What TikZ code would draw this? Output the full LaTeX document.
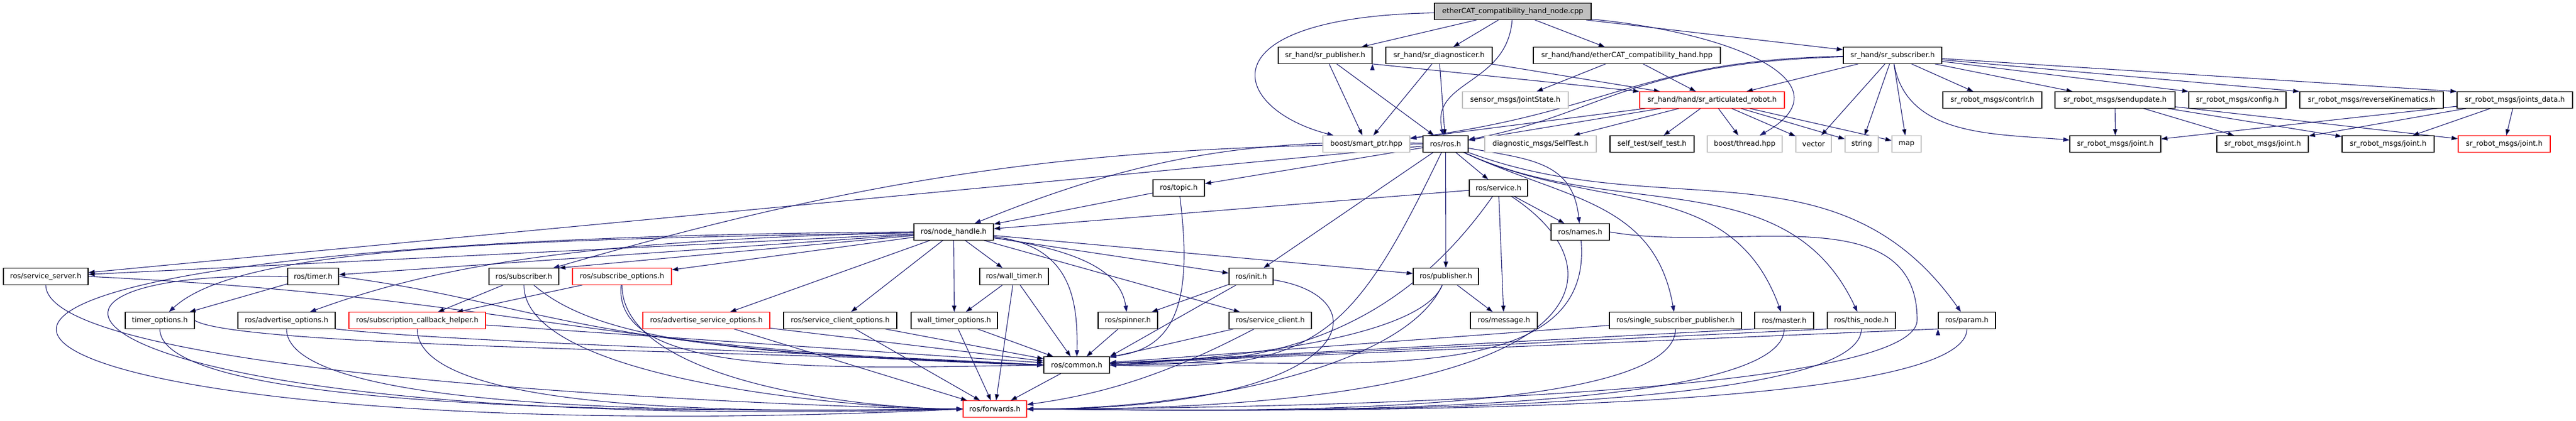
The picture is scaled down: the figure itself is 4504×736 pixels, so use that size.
\documentclass[tikz,border=0pt]{standalone}
\usepackage{fontspec}
\setmainfont{DejaVu Sans}
\usetikzlibrary{arrows.meta}
\definecolor{edgeblue}{HTML}{191970}
\definecolor{boxgray}{HTML}{BFBFBF}
\definecolor{boxred}{HTML}{FF0000}
\pgfdeclarelayer{background}
\pgfsetlayers{background,main}
\tikzset{
  ->,
  >={Triangle[length=11pt,width=7.5pt]},
  every node/.style={font=\fontsize{12.5}{15}\selectfont, inner xsep=2pt, inner ysep=0pt, minimum height=28.5pt},
  file/.style={draw=black, line width=1.2pt, fill=white},
  sysfile/.style={draw=boxgray, line width=1.2pt, fill=white},
  cutfile/.style={draw=boxred, line width=1.2pt, fill=white},
  mainfile/.style={draw=black, line width=1.2pt, fill=boxgray},
  wd/.style={minimum width=#1pt},
  link/.style={draw=edgeblue, line width=1.1pt},
}

\begin{document}
\begin{tikzpicture}[x=1pt, y=-1pt]
  \useasboundingbox (0,0) rectangle (4504,736);

  \node[mainfile,wd=274] (top) at (2645,20) {etherCAT\_compatibility\_hand\_node.cpp};

  \node[file,wd=164] (srpub) at (2317,97) {sr\_hand/sr\_publisher.h};
  \node[file,wd=186] (srdiag) at (2516,97) {sr\_hand/sr\_diagnosticer.h};
  \node[file,wd=327] (ecathand) at (2844.5,97) {sr\_hand/hand/etherCAT\_compatibility\_hand.hpp};
  \node[file,wd=172] (srsub) at (3309,97) {sr\_hand/sr\_subscriber.h};

  \node[sysfile,wd=185] (jointstate) at (2649.5,175) {sensor\_msgs/JointState.h};
  \node[cutfile,wd=253] (artrobot) at (2993.5,175) {sr\_hand/hand/sr\_articulated\_robot.h};
  \node[file,wd=173] (contrlr) at (3483.5,175) {sr\_robot\_msgs/contrlr.h};
  \node[file,wd=210] (sendupdate) at (3698,175) {sr\_robot\_msgs/sendupdate.h};
  \node[file,wd=170] (config) at (3912,175) {sr\_robot\_msgs/config.h};
  \node[file,wd=251] (revkin) at (4146.5,175) {sr\_robot\_msgs/reverseKinematics.h};
  \node[file,wd=202] (jointsdata) at (4397,175) {sr\_robot\_msgs/joints\_data.h};

  \node[sysfile,wd=152] (smartptr) at (2389,252) {boost/smart\_ptr.hpp};
  \node[file,wd=79] (rosros) at (2527.5,252) {ros/ros.h};
  \node[sysfile,wd=195] (selftestmsg) at (2693.5,252) {diagnostic\_msgs/SelfTest.h};
  \node[file,wd=147] (selftest) at (2888.5,252) {self\_test/self\_test.h};
  \node[sysfile,wd=131] (thread) at (3050.5,252) {boost/thread.hpp};
  \node[sysfile,wd=62] (vector) at (3171,252) {vector};
  \node[sysfile,wd=58] (string) at (3255,252) {string};
  \node[sysfile,wd=51] (map) at (3333.5,252) {map};
  \node[file,wd=159] (jointA) at (3698.5,252) {sr\_robot\_msgs/joint.h};
  \node[file,wd=160] (jointB) at (3956,252) {sr\_robot\_msgs/joint.h};
  \node[file,wd=161] (jointC) at (4175.5,252) {sr\_robot\_msgs/joint.h};
  \node[cutfile,wd=161] (jointD) at (4378.5,252) {sr\_robot\_msgs/joint.h};

  \node[file,wd=90] (topic) at (2061,329) {ros/topic.h};
  \node[file,wd=102] (service) at (2620,329) {ros/service.h};

  \node[file,wd=139] (nodehandle) at (1667.5,406) {ros/node\_handle.h};
  \node[file,wd=102] (names) at (2763,406) {ros/names.h};

  \node[file,wd=148] (srvserver) at (80,484) {ros/service\_server.h};
  \node[file,wd=89] (timer) at (547.5,484) {ros/timer.h};
  \node[file,wd=122] (subscriber) at (916,484) {ros/subscriber.h};
  \node[cutfile,wd=173] (subopts) at (1087.5,484) {ros/subscribe\_options.h};
  \node[file,wd=120] (walltimer) at (1773,484) {ros/wall\_timer.h};
  \node[file,wd=77] (init) at (2187.5,484) {ros/init.h};
  \node[file,wd=114] (publisher) at (2528,484) {ros/publisher.h};

  \node[file,wd=121] (timeropts) at (279.5,561) {timer\_options.h};
  \node[file,wd=170] (advopts) at (501,561) {ros/advertise\_options.h};
  \node[cutfile,wd=239] (subcb) at (729.5,561) {ros/subscription\_callback\_helper.h};
  \node[cutfile,wd=222] (advsrvopts) at (1235,561) {ros/advertise\_service\_options.h};
  \node[file,wd=198] (srvcliopts) at (1469,561) {ros/service\_client\_options.h};
  \node[file,wd=151] (walltimeropts) at (1668.5,561) {wall\_timer\_options.h};
  \node[file,wd=104] (spinner) at (1972,561) {ros/spinner.h};
  \node[file,wd=144] (srvclient) at (2221,561) {ros/service\_client.h};
  \node[file,wd=117] (message) at (2629.5,561) {ros/message.h};
  \node[file,wd=231] (ssp) at (2929.5,561) {ros/single\_subscriber\_publisher.h};
  \node[file,wd=103] (master) at (3119.5,561) {ros/master.h};
  \node[file,wd=119] (thisnode) at (3254.5,561) {ros/this\_node.h};
  \node[file,wd=100] (param) at (3439,561) {ros/param.h};

  \node[file,wd=115] (common) at (1882.5,639) {ros/common.h};
  \node[cutfile,wd=111] (forwards) at (1739.5,716) {ros/forwards.h};

  \begin{pgfonlayer}{background}
  \draw[link] (top) edge (srpub)
        (top) edge (srdiag)
        (top) edge (ecathand)
        (top) edge (srsub)
        (srpub) edge (smartptr)
        (srpub) edge (rosros)
        (srpub.south east) edge (artrobot.north west)
        (srdiag) edge (smartptr)
        (srdiag) edge (rosros)
        (srdiag) edge (artrobot)
        (ecathand) edge (jointstate)
        (ecathand) edge (artrobot)
        (srsub) edge (artrobot)
        (srsub) edge (vector)
        (srsub) edge (string)
        (srsub) edge (map)
        (srsub) edge (contrlr)
        (srsub) edge (sendupdate)
        (srsub) edge (config.north west)
        (srsub) edge (revkin.north west)
        (srsub) edge (jointsdata.north west)
        (artrobot) edge (smartptr)
        (artrobot) edge (rosros)
        (artrobot) edge (selftestmsg)
        (artrobot) edge (selftest)
        (artrobot) edge (thread)
        (artrobot) edge (vector)
        (artrobot) edge (string)
        (artrobot) edge (map)
        (sendupdate) edge (jointA)
        (sendupdate) edge (jointB)
        (sendupdate) edge (jointC)
        (sendupdate) edge (jointD)
        (jointsdata) edge (jointA)
        (jointsdata) edge (jointB)
        (jointsdata) edge (jointC)
        (jointsdata) edge (jointD);

  \draw[link] (top) .. controls (2100,30) and (2150,190) .. (smartptr);
  \draw[link] (top) .. controls (2635,150) and (2500,140) .. (rosros);
  \draw[link] (top) .. controls (3050,60) and (3230,150) .. (thread);
  \draw[link] (srsub) .. controls (2870,105) and (2820,195) .. (smartptr);
  \draw[link] (srsub) .. controls (2850,110) and (2800,200) .. (rosros);
  \draw[link] (srsub) .. controls (3334,240) and (3488,234) .. (jointA);

  \draw[link] (rosros) edge (topic)
        (rosros) edge (service)
        (rosros) edge (srvserver)
        (rosros) edge (init)
        (rosros) edge (publisher)
        (topic) edge (nodehandle)
        (service) edge (nodehandle)
        (service) edge (names)
        (service) edge (message)
        (nodehandle) edge (srvserver)
        (nodehandle) edge (timer)
        (nodehandle) edge (subscriber.north east)
        (nodehandle) edge (subopts)
        (nodehandle) edge (advsrvopts)
        (nodehandle) edge (srvcliopts)
        (nodehandle) edge (walltimeropts)
        (nodehandle) edge (walltimer)
        (nodehandle) edge (init)
        (nodehandle) edge (srvclient)
        (nodehandle) edge (publisher)
        (timer) edge (timeropts)
        (subscriber) edge (subcb)
        (subopts) edge (subcb)
        (walltimer) edge (walltimeropts)
        (init) edge (spinner)
        (publisher) edge (message);

  \draw[link] (nodehandle) .. controls (900,420) and (420,430) .. (timeropts);
  \draw[link] (nodehandle) .. controls (1000,420) and (750,470) .. (advopts);
  \draw[link] (rosros) .. controls (2185,241) and (1984,277) .. (nodehandle);
  \draw[link] (rosros) .. controls (1893,254) and (1526,307) .. (subscriber);
  \draw[link] (rosros) .. controls (2675,279) and (2750,282) .. (names);
  \draw[link] (rosros) .. controls (2738,350) and (2893,352) .. (ssp);
  \draw[link] (rosros) .. controls (2794,376) and (3026,304) .. (master);
  \draw[link] (rosros) .. controls (2825,390) and (3124,281) .. (thisnode);
  \draw[link] (rosros) .. controls (2910,394) and (3214,241) .. (param);

  \draw[link] (subcb) edge (common)
        (advsrvopts) edge (common)
        (srvcliopts) edge (common)
        (walltimeropts) edge (common)
        (walltimer) edge (common)
        (spinner) edge (common)
        (init) edge (common.north east)
        (srvclient) edge (common)
        (ssp) edge (common)
        (master.south west) edge (common)
        (thisnode.south west) edge (common)
        (param.south west) edge (common)
        (advsrvopts) edge (forwards)
        (srvcliopts) edge (forwards)
        (walltimeropts) edge (forwards)
        (walltimer) edge (forwards)
        (common) edge (forwards);

  \draw[link] (srvserver.south) .. controls +(0,170) and +(-170,0) .. (forwards.west);
  \draw[link] (subscriber.south) .. controls +(0,170) and +(-170,0) .. (forwards.west);
  \draw[link] (subopts.south) .. controls +(0,170) and +(-170,0) .. (forwards.west);
  \draw[link] (timeropts.south) .. controls +(0,170) and +(-170,0) .. (forwards.west);
  \draw[link] (advopts.south) .. controls +(0,170) and +(-170,0) .. (forwards.west);
  \draw[link] (subcb.south) .. controls +(0,170) and +(-170,0) .. (forwards.west);
  \draw[link] (ssp.south) .. controls +(0,170) and +(170,0) .. (forwards.east);
  \draw[link] (master.south) .. controls +(0,170) and +(170,0) .. (forwards.east);
  \draw[link] (thisnode.south) .. controls +(0,170) and +(170,0) .. (forwards.east);
  \draw[link] (param.south) .. controls +(0,170) and +(170,0) .. (forwards.east);
  \draw[link] (srvclient) .. controls (2046,653) and (1935,689) .. (forwards);

  \draw[link] (nodehandle) .. controls (1870,430) and (1885,520) .. (common);
  \draw[link] (nodehandle) .. controls (1900,440) and (1960,480) .. (spinner);
  \draw[link] (nodehandle.west) .. controls (-700,420) and (-100,800) .. (forwards.west);
  \draw[link] (timer.west) .. controls (-100,470) and (100,760) .. (forwards.west);
  \draw[link] (srvserver.east) .. controls (900,520) and (1000,610) .. (common.west);
  \draw[link] (timer.east) .. controls (950,530) and (1000,615) .. (common.west);
  \draw[link] (subscriber) .. controls (1050,600) and (1300,620) .. (common.west);
  \draw[link] (subopts) .. controls (1070,660) and (1450,645) .. (common.west);
  \draw[link] (timeropts.east) .. controls (420,610) and (1400,615) .. (common.west);
  \draw[link] (advopts.south east) .. controls (800,600) and (1400,615) .. (common.west);
  \draw[link] (rosros) .. controls (2360,600) and (2300,650) .. (common.east);
  \draw[link] (topic) .. controls (2085,520) and (2060,610) .. (common.north east);
  \draw[link] (service) .. controls (2430,600) and (2200,640) .. (common.east);
  \draw[link] (service) .. controls (2850,480) and (2800,720) .. (forwards.east);
  \draw[link] (publisher) .. controls (2480,600) and (2100,630) .. (common.east);
  \draw[link] (publisher) .. controls (2460,640) and (2100,716) .. (forwards.east);
  \draw[link] (names) .. controls (2790,700) and (2300,620) .. (common.east);
  \draw[link] (names.east) .. controls (3030,444) and (3352,341) .. (3352,560)
        .. controls (3352,710) and (1945,716) .. (forwards.east);
  \draw[link] (init) .. controls (2420,520) and (2380,716) .. (forwards.east);
  \end{pgfonlayer}
\end{tikzpicture}
\end{document}
